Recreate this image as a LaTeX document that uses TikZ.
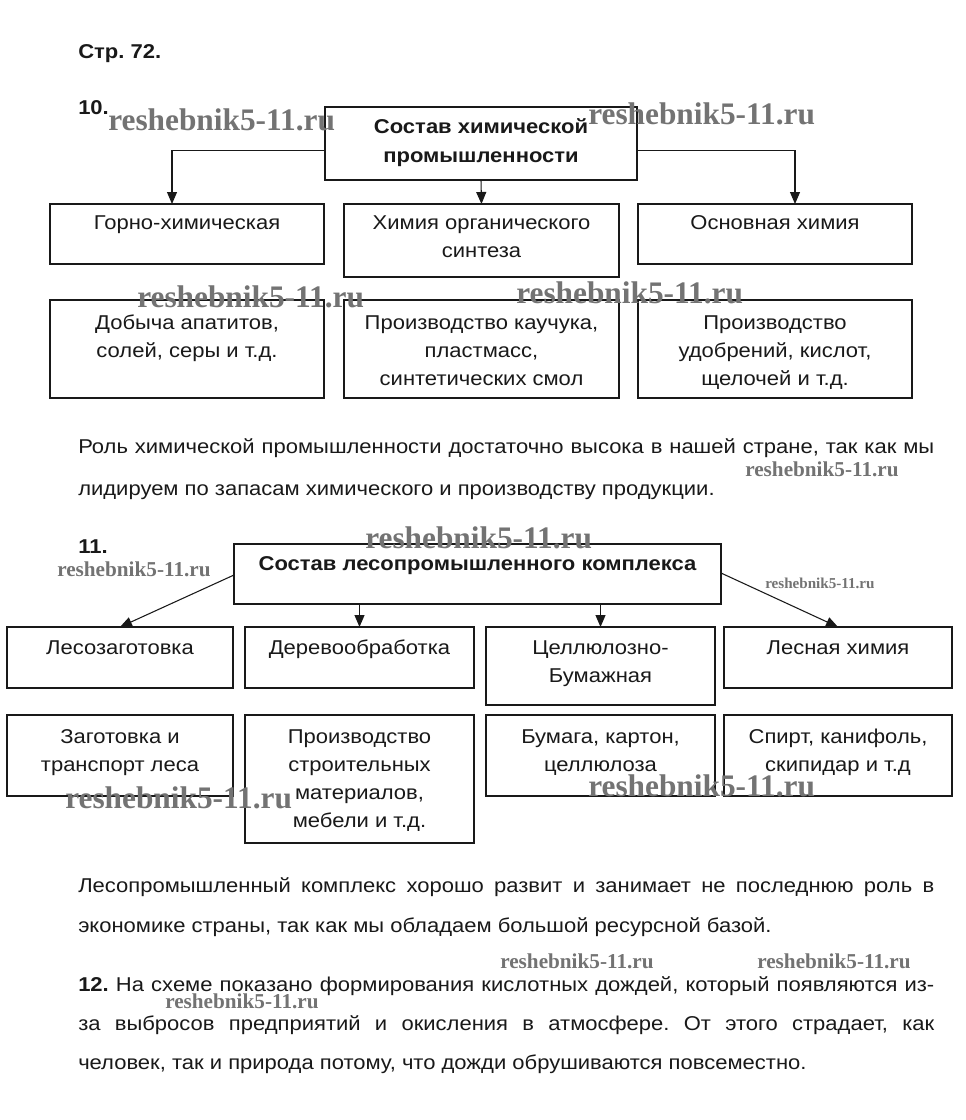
\documentclass[tikz,border=0pt]{standalone}
\usepackage{fontspec}
\setmainfont{Liberation Sans}[FakeStretch=1.1]
\newfontfamily\wmfont{Liberation Serif}
\usepackage{graphicx}
\usetikzlibrary{arrows.meta,calc}
\newcommand{\bx}[5]{\node[box, minimum width={(#4-#2)*0.75pt}, minimum height={(#5-#3)*0.75pt}] (#1) at (#2,#3) {};}
\newcommand{\wmark}[1]{\resizebox{#1}{!}{\wmfont\bfseries reshebnik5-11.ru}}
\begin{document}
\frenchspacing
\begin{tikzpicture}[x=0.75pt,y=-0.75pt,
  box/.style={draw=black!90, line width=0.8pt, anchor=north west, inner sep=0pt, outer sep=0pt},
  t/.style={font=\fontsize{15}{21}\selectfont, align=center, anchor=base, inner sep=0pt, text=black!90},
  tb/.style={t, font=\fontsize{15}{21}\selectfont\bfseries},
  para/.style={font=\fontsize{15}{21}\selectfont, anchor=base west, inner sep=0pt, text=black!90},
  arr/.style={draw=black!90, line width=0.8pt, -{Triangle[length=9pt,width=7.5pt]}},
  wm/.style={anchor=west, inner sep=0pt, text=black!55}]
\fill[white] (0,0) rectangle (966,1120);
\useasboundingbox (0,0) rectangle (966,1120);

% ---------- 10 ----------
\node[para, font=\fontsize{15}{21}\selectfont\bfseries] (hdr) at (78,59) {Стр. 72.};
\node[para, font=\fontsize{15}{21}\selectfont\bfseries] (n10) at (78,115) {10.};

\bx{h1}{325}{107}{637}{180}
\node[tb] (h1t) at ($(h1.north)+(0,55)$) {Состав химической\\промышленности};

\bx{a1}{50}{204}{324}{264}
\bx{b1}{344}{204}{619}{277}
\bx{c1}{638}{204}{912}{264}
\node[t] (a1t) at ($(a1.north)+(0,25)$) {Горно-химическая};
\node[t] (b1t) at ($(b1.north)+(0,53)$) {Химия органического\\синтеза};
\node[t] (c1t) at ($(c1.north)+(0,25)$) {Основная химия};

\bx{a2}{50}{300}{324}{398}
\bx{b2}{344}{300}{619}{398}
\bx{c2}{638}{300}{912}{398}
\node[t] (a2t) at ($(a2.north)+(0,57)$) {Добыча апатитов,\\солей, серы и т.д.};
\node[t] (b2t) at ($(b2.north)+(0,85)$) {Производство каучука,\\пластмасс,\\синтетических смол};
\node[t] (c2t) at ($(c2.north)+(0,85)$) {Производство\\удобрений, кислот,\\щелочей и т.д.};

\draw[arr] ($(h1.west)+(0,7)$) -| ($(a1.north)+(-15,0)$);
\draw[arr] ($(h1.east)+(0,7)$) -| ($(c1.north)+(20,0)$);
\draw[arr] (h1.south) -- (b1.north);

\node[para] (p1a) at (78,453) {\makebox[642pt][s]{Роль химической промышленности достаточно высока в нашей стране, так как мы}};
\node[para] (p1b) at (78,495) {лидируем по запасам химического и производству продукции.};

% ---------- 11 ----------
\node[para, font=\fontsize{15}{21}\selectfont\bfseries] (n11) at (78,553) {11.};
\bx{h3}{234}{544}{721}{604}
\node[tb] (h3t) at ($(h3.north)+(0,26)$) {Состав лесопромышленного комплекса};

\bx{d1}{7}{627}{233}{688}
\bx{e1}{245}{627}{474}{688}
\bx{f1}{486}{627}{715}{705}
\bx{g1}{724}{627}{952}{688}
\node[t] (d1t) at ($(d1.north)+(0,27)$) {Лесозаготовка};
\node[t] (e1t) at ($(e1.north)+(0,27)$) {Деревообработка};
\node[t] (f1t) at ($(f1.north)+(0,55)$) {Целлюлозно-\\Бумажная};
\node[t] (g1t) at ($(g1.north)+(0,27)$) {Лесная химия};

\bx{d2}{7}{715}{233}{796}
\bx{e2}{245}{715}{474}{843}
\bx{f2}{486}{715}{715}{796}
\bx{g2}{724}{715}{952}{796}
\node[t] (d2t) at ($(d2.north)+(0,56)$) {Заготовка и\\транспорт леса};
\node[t] (e2t) at ($(e2.north)+(0,112)$) {Производство\\строительных\\материалов,\\мебели и т.д.};
\node[t] (f2t) at ($(f2.north)+(0,56)$) {Бумага, картон,\\целлюлоза};
\node[t] (g2t) at ($(g2.north)+(0,56)$) {Спирт, канифоль,\\скипидар и т.д};

\draw[arr] ($(h3.west)+(0,1)$) -- (d1.north);
\draw[arr] ($(h3.east)+(0,-1)$) -- (g1.north);
\draw[arr] (h3.south -| e1.north) -- (e1.north);
\draw[arr] (h3.south -| f1.north) -- (f1.north);

\node[para] (p2a) at (78,892) {\makebox[642pt][s]{Лесопромышленный комплекс хорошо развит и занимает не последнюю роль в}};
\node[para] (p2b) at (78,932) {экономике страны, так как мы обладаем большой ресурсной базой.};

% ---------- 12 ----------
\node[para] (p3a) at (78,991) {\makebox[642pt][s]{{\bfseries 12.} На схеме показано формирования кислотных дождей, который появляются из-}};
\node[para] (p3b) at (78,1030) {\makebox[642pt][s]{за выбросов предприятий и окисления в атмосфере. От этого страдает, как}};
\node[para] (p3c) at (78,1069) {человек, так и природа потому, что дожди обрушиваются повсеместно.};

% ---------- watermarks ----------
\node[wm] (w1) at (108,120) {\wmark{170pt}};
\node[wm] (w2) at (588,114) {\wmark{170pt}};
\node[wm] (w3) at (137,297) {\wmark{170pt}};
\node[wm] (w4) at (516,293) {\wmark{170pt}};
\node[wm] (w5) at (745,469) {\wmark{115pt}};
\node[wm] (w6) at (365,538) {\wmark{170pt}};
\node[wm] (w7) at (57,569) {\wmark{115pt}};
\node[wm] (w8) at (765,583) {\wmark{82pt}};
\node[wm] (w9) at (65,798) {\wmark{170pt}};
\node[wm] (w10) at (588,786) {\wmark{170pt}};
\node[wm] (w11) at (500,961) {\wmark{115pt}};
\node[wm] (w12) at (757,961) {\wmark{115pt}};
\node[wm] (w13) at (165,1001) {\wmark{115pt}};
\end{tikzpicture}
\end{document}
